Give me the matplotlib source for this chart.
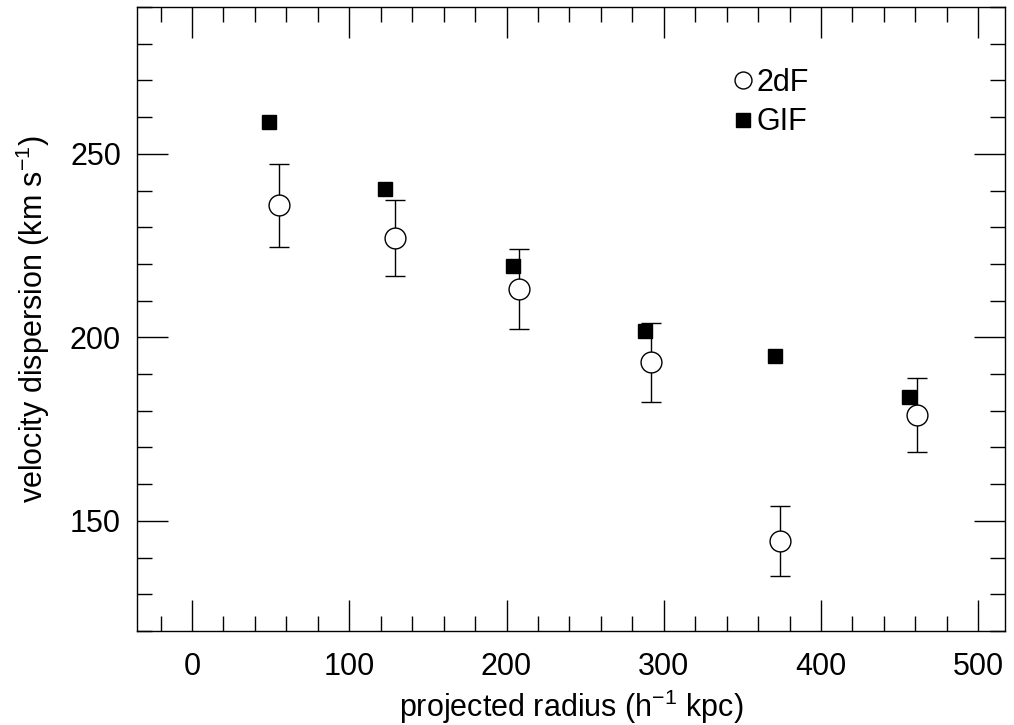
# Velocity dispersion vs projected radius, 2dF vs GIF

import matplotlib
matplotlib.use("Agg")
import matplotlib.pyplot as plt
from matplotlib.lines import Line2D
from matplotlib.ticker import MultipleLocator

plt.rcParams["font.family"] = ["Liberation Sans", "DejaVu Sans"]
plt.rcParams["mathtext.fontset"] = "custom"
plt.rcParams["mathtext.rm"] = "Liberation Sans"

# 2dF data (open circles with error bars)
r_2df = [55, 129, 208, 292, 374, 461]
sigma_2df = [236, 227, 213.2, 193.2, 144.6, 178.9]
err_2df = [11.3, 10.4, 11, 10.8, 9.5, 10]

# GIF data (filled squares)
r_gif = [49, 123, 204, 288, 371, 456]
sigma_gif = [258.7, 240.3, 219.5, 201.8, 195, 183.8]

fig = plt.figure(figsize=(10.14, 7.25), dpi=100)
ax = fig.add_axes([137 / 1014, 1 - 631 / 725, 868 / 1014, 624 / 725])

ax.errorbar(r_2df, sigma_2df, yerr=err_2df, fmt="none", ecolor="black",
            elinewidth=1.0, capsize=7.5, capthick=1.0)
ax.plot(r_2df, sigma_2df, "o", ms=15, mfc="white", mec="black", mew=1.0,
        zorder=3)
ax.plot(r_gif, sigma_gif, "s", ms=10.5, mfc="black", mec="black", zorder=4)

ax.set_xlim(-35, 517)
ax.set_ylim(120, 290)
ax.xaxis.set_major_locator(MultipleLocator(100))
ax.xaxis.set_minor_locator(MultipleLocator(20))
ax.yaxis.set_major_locator(MultipleLocator(50))
ax.yaxis.set_minor_locator(MultipleLocator(10))
ax.tick_params(which="both", direction="in", top=True, right=True,
               width=1.0, labelsize=22)
ax.tick_params(axis="x", pad=15)
ax.tick_params(axis="y", pad=11.5)
ax.tick_params(which="major", length=22)
ax.tick_params(which="minor", length=11)
for s in ax.spines.values():
    s.set_linewidth(1.0)

ax.set_xlabel(r"projected radius (h$\mathregular{^{-1}}$ kpc)", fontsize=22,
              labelpad=4)
ax.set_ylabel(r"velocity dispersion (km s$\mathregular{^{-1}}$)", fontsize=22,
              labelpad=13)

handles = [
    Line2D([], [], ls="none", marker="o", ms=12.2, mfc="white", mec="black",
           mew=1.0),
    Line2D([], [], ls="none", marker="s", ms=10, mfc="black", mec="black"),
]
ax.legend(handles, ["2dF", "GIF"], loc="upper left",
          bbox_to_anchor=(0.684, 0.903), frameon=False, fontsize=22,
          borderpad=0, borderaxespad=0, handletextpad=0.05,
          labelspacing=0.32, handlelength=0.8)

fig.savefig("out.png", dpi=100)
